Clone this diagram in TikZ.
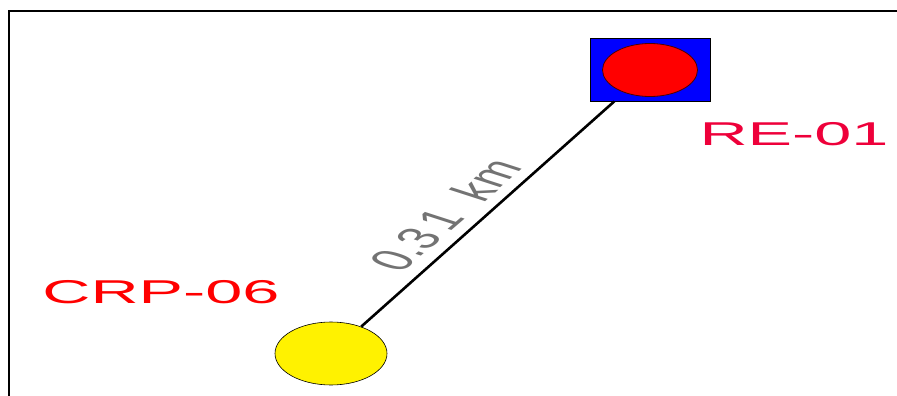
\documentclass[tikz,border=0pt]{standalone}
\usepackage{fontspec}
\setmainfont{Liberation Sans}
\usepackage{tikz}
\definecolor{sitered}{RGB}{238,0,58}
\definecolor{sitblue}{RGB}{0,0,255}
\usetikzlibrary{arrows.meta, positioning, shapes.geometric, calc}
\tikzset{
    sitelabel/.style={font=\fontsize{33}{36}\selectfont, xscale=2.02, anchor=base, inner sep=0pt},
    reframe/.style={draw, fill=sitblue, line width=0.8pt, minimum width=120pt, minimum height=63pt, inner sep=0pt},
    redot/.style={ellipse, draw=black!70!red, fill=red, line width=0.8pt, minimum width=95pt, minimum height=53pt, inner sep=0pt},
    crpdot/.style={ellipse, draw, fill=yellow, line width=0.6pt, minimum width=112pt, minimum height=63pt, inner sep=0pt},
    linkline/.style={line width=2.6pt},
    distlabel/.style={font=\fontsize{31}{34}\selectfont, text=black!55, xscale=1.9, rotate=58.5, inner sep=0pt}
}
\begin{document}
\begin{tikzpicture}[x=1pt, y=-1pt]
  \useasboundingbox (0,0) rectangle (897,396);
  % frame
  \draw[line width=2.8pt] (9,396) -- (9,11) -- (897,11);
  % sites
  \node[reframe] (re) at (650,69.5) {};
  \node[redot] (reIn) at (650,70) {};
  \node[crpdot] (crp) at (331,353.5) {};
  \draw[linkline] (crp) -- (re);
  \node[distlabel] (dist) at (445,215) {0.3\,1\ \ km};
  \node[sitelabel, text=sitered] (reName) at (794,145) {RE-01};
  \node[sitelabel, text=red] (crpName) at (161,303) {CRP-06};
\end{tikzpicture}
\end{document}
